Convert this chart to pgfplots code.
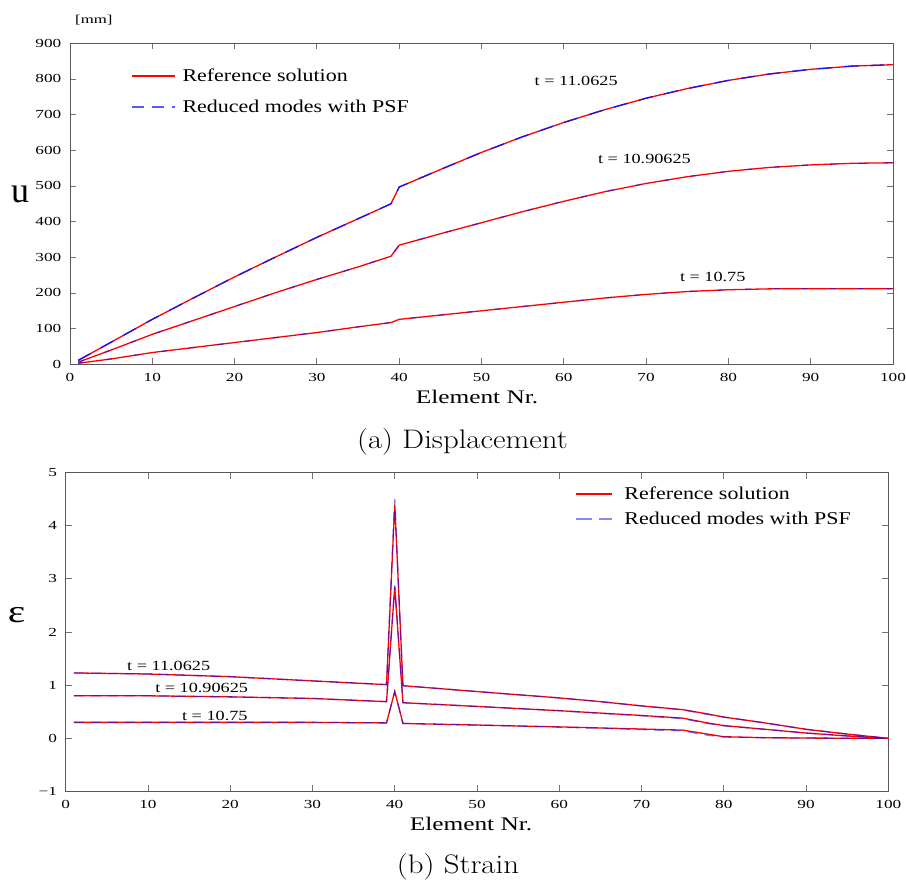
\documentclass[border=0pt]{standalone}
\usepackage{pgfplots}
\usepackage{pgfplotstable}
\pgfplotsset{compat=1.18}
\usepackage{fontspec}
\usepackage{graphicx}
\newfontfamily\ftick{Liberation Serif}[FakeStretch=1.4]
\newfontfamily\flab{Liberation Serif}[FakeStretch=1.32]
\newfontfamily\fleg{Liberation Serif}[FakeStretch=1.22]
\newfontfamily\fann{Liberation Serif}[FakeStretch=1.3]
\newfontfamily\fsym{Liberation Serif}
\definecolor{refred}{RGB}{255,0,0}
\definecolor{psfblue}{RGB}{20,20,255}
\definecolor{legblue}{RGB}{90,90,255}

\pgfplotstableread{
x a b c
1 11 6 3
5 62 40 15
10 126 84 33
15 186 123 47
20 245 162 61
25 301 201 75
30 356 238 89
35 408 273 105
39 450 303 117
40 497 334 126
45 546 366 138
50 594 397 150
55 638 428 162
60 678 457 174
65 714 484 186
70 746 507 196
75 773 526 204
80 796 541 209
85 814 552 211.5
90 827 559 212
95 836 563.5 212
100 840 565 212
}\disp

\pgfplotstableread{
x a b c d e f
1 1.23 0.80 0.30 1.23 0.80 0.30
10 1.21 0.80 0.30 1.21 0.80 0.30
20 1.16 0.78 0.30 1.16 0.78 0.30
30 1.08 0.75 0.30 1.08 0.75 0.30
39 1.01 0.69 0.29 1.01 0.69 0.29
40 4.40 2.85 0.88 4.50 2.88 0.88
41 0.99 0.67 0.28 0.99 0.67 0.28
50 0.88 0.60 0.25 0.88 0.60 0.25
60 0.76 0.52 0.215 0.76 0.52 0.21
65 0.69 0.475 0.195 0.69 0.47 0.19
70 0.61 0.43 0.175 0.61 0.425 0.165
75 0.54 0.38 0.155 0.535 0.37 0.14
78 0.46 0.29 0.08 0.45 0.28 0.06
80 0.40 0.24 0.03 0.40 0.235 0.025
85 0.29 0.17 0.012 0.29 0.17 0.01
90 0.17 0.10 0.005 0.17 0.10 0.005
95 0.08 0.045 0.002 0.08 0.045 0.002
100 0.0 0.0 0.0 0.0 0.0 0.0
}\strain

\pgfplotsset{
  common/.style={
    scale only axis, xmin=0, xmax=100,
    xtick={0,10,...,100},
    xticklabels={0,10,20,30,40,50,60,70,80,90,100},
    tick align=inside, major tick length=6bp,
    axis line style={draw=black!65, line width=0.9bp},
    tick style={draw=black!55, line width=0.9bp},
    xticklabel style={font=\ftick\fontsize{12.3bp}{14bp}\selectfont, inner sep=0pt, anchor=north, yshift=-8.5bp},
    yticklabel style={font=\ftick\fontsize{12.3bp}{14bp}\selectfont, inner sep=0pt, anchor=east, xshift=-8.5bp},
    legend cell align=left,
    legend style={draw=none, fill=none, inner xsep=0pt, inner ysep=0pt,
      font=\fleg\fontsize{18bp}{20bp}\selectfont, anchor=north west},
  },
}

\begin{document}
\begin{tikzpicture}
\useasboundingbox (0bp,0bp) rectangle (906bp,883bp);

% ---------- (a) Displacement ----------
\begin{axis}[common, anchor=south west, at={(70bp,518.7bp)}, width=823bp, height=321bp,
  ymin=0, ymax=900, ytick={0,100,...,900},
  yticklabels={0,100,200,300,400,500,600,700,800,900},
  legend style={at={(axis cs:7.38,834)}, row sep=13bp,
    /tikz/every odd column/.append style={column sep=5bp}},
  legend image code/.code={\draw[#1] (0bp,0bp) -- (43bp,0bp);},
]
\addlegendimage{color=refred, line width=1.3bp, solid}
\addlegendentry{Reference solution}
\addlegendimage{color=legblue, line width=1.6bp, dash pattern=on 12bp off 8bp}
\addlegendentry{Reduced modes with PSF}
\addplot[color=refred, line width=1.3bp, forget plot] table[x=x, y=a] {\disp};
\addplot[color=refred, line width=1.3bp, forget plot] table[x=x, y=b] {\disp};
\addplot[color=refred, line width=1.3bp, forget plot] table[x=x, y=c] {\disp};
\addplot[color=psfblue, line width=1.3bp, dash pattern=on 14bp off 12bp, forget plot] table[x=x, y=a] {\disp};
\addplot[color=psfblue, line width=1.3bp, dash pattern=on 6bp off 22bp, draw opacity=0.6, forget plot] table[x=x, y=b] {\disp};
\addplot[color=psfblue, line width=1.3bp, dash pattern=on 6bp off 22bp, draw opacity=0.6, forget plot] table[x=x, y=c] {\disp};
\node[anchor=base, font=\fann\fontsize{14bp}{16bp}\selectfont] at (axis cs:61.5,783) {t = 11.0625};
\node[anchor=base, font=\fann\fontsize{14bp}{16bp}\selectfont] at (axis cs:69.8,563.5) {t = 10.90625};
\node[anchor=base, font=\fann\fontsize{14bp}{16bp}\selectfont] at (axis cs:78.1,231.6) {t = 10.75};
\end{axis}

% ---------- (b) Strain ----------
\begin{axis}[common, anchor=south west, at={(65.7bp,91.5bp)}, width=822.6bp, height=319bp,
  ymin=-1, ymax=5, ytick={-1,0,1,2,3,4,5},
  yticklabels={−1,0,1,2,3,4,5},
  legend style={at={(axis cs:61.9,4.77)}, row sep=7bp,
    /tikz/every odd column/.append style={column sep=9.7bp}},
  legend image code/.code={\draw[#1] (0bp,0bp) -- (36.3bp,0bp);},
]
\addlegendimage{color=refred, line width=1.3bp, solid}
\addlegendentry{Reference solution}
\addlegendimage{color=psfblue, line width=1.4bp, dash pattern=on 16.7bp off 6.7bp, draw opacity=0.5}
\addlegendentry{Reduced modes with PSF}
\addplot[color=refred, line width=1.3bp, forget plot] table[x=x, y=a] {\strain};
\addplot[color=refred, line width=1.3bp, forget plot] table[x=x, y=b] {\strain};
\addplot[color=refred, line width=1.3bp, forget plot] table[x=x, y=c] {\strain};
\addplot[color=psfblue, line width=1.3bp, dash pattern=on 10bp off 7bp, draw opacity=0.55, forget plot] table[x=x, y=d] {\strain};
\addplot[color=psfblue, line width=1.3bp, dash pattern=on 10bp off 7bp, draw opacity=0.55, forget plot] table[x=x, y=e] {\strain};
\addplot[color=psfblue, line width=1.3bp, dash pattern=on 10bp off 7bp, draw opacity=0.55, forget plot] table[x=x, y=f] {\strain};
\node[anchor=base, font=\fann\fontsize{14bp}{16bp}\selectfont] at (axis cs:12.52,1.271) {t = 11.0625};
\node[anchor=base, font=\fann\fontsize{14bp}{16bp}\selectfont] at (axis cs:16.53,0.858) {t = 10.90625};
\node[anchor=base, font=\fann\fontsize{14bp}{16bp}\selectfont] at (axis cs:18.13,0.344) {t = 10.75};
\end{axis}

% ---------- labels ----------
\node[anchor=base, inner sep=0pt, font=\flab\fontsize{19.2bp}{21bp}\selectfont] at (477bp,479.7bp) {Element Nr.};
\node[anchor=base, inner sep=0pt, font=\flab\fontsize{19.2bp}{21bp}\selectfont] at (471bp,52bp) {Element Nr.};
\node[anchor=base west, inner sep=0pt, font=\ftick\fontsize{12bp}{14bp}\selectfont] at (75bp,859.5bp) {[mm]};
\node[inner sep=0pt, font=\fsym\fontsize{36bp}{38bp}\selectfont] at (20bp,689bp) {u};
\node[inner sep=0pt, font=\fann\fontsize{32bp}{34bp}\selectfont] at (16.5bp,267.5bp) {ε};
\node[anchor=base, inner sep=0pt] at (462.5bp,434bp) {\scalebox{1.15}[1]{\fontsize{26.8bp}{30bp}\selectfont (a) Displacement}};
\node[anchor=base, inner sep=0pt] at (458bp,9.7bp) {\scalebox{1.15}[1]{\fontsize{26.8bp}{30bp}\selectfont (b) Strain}};
\end{tikzpicture}
\end{document}
